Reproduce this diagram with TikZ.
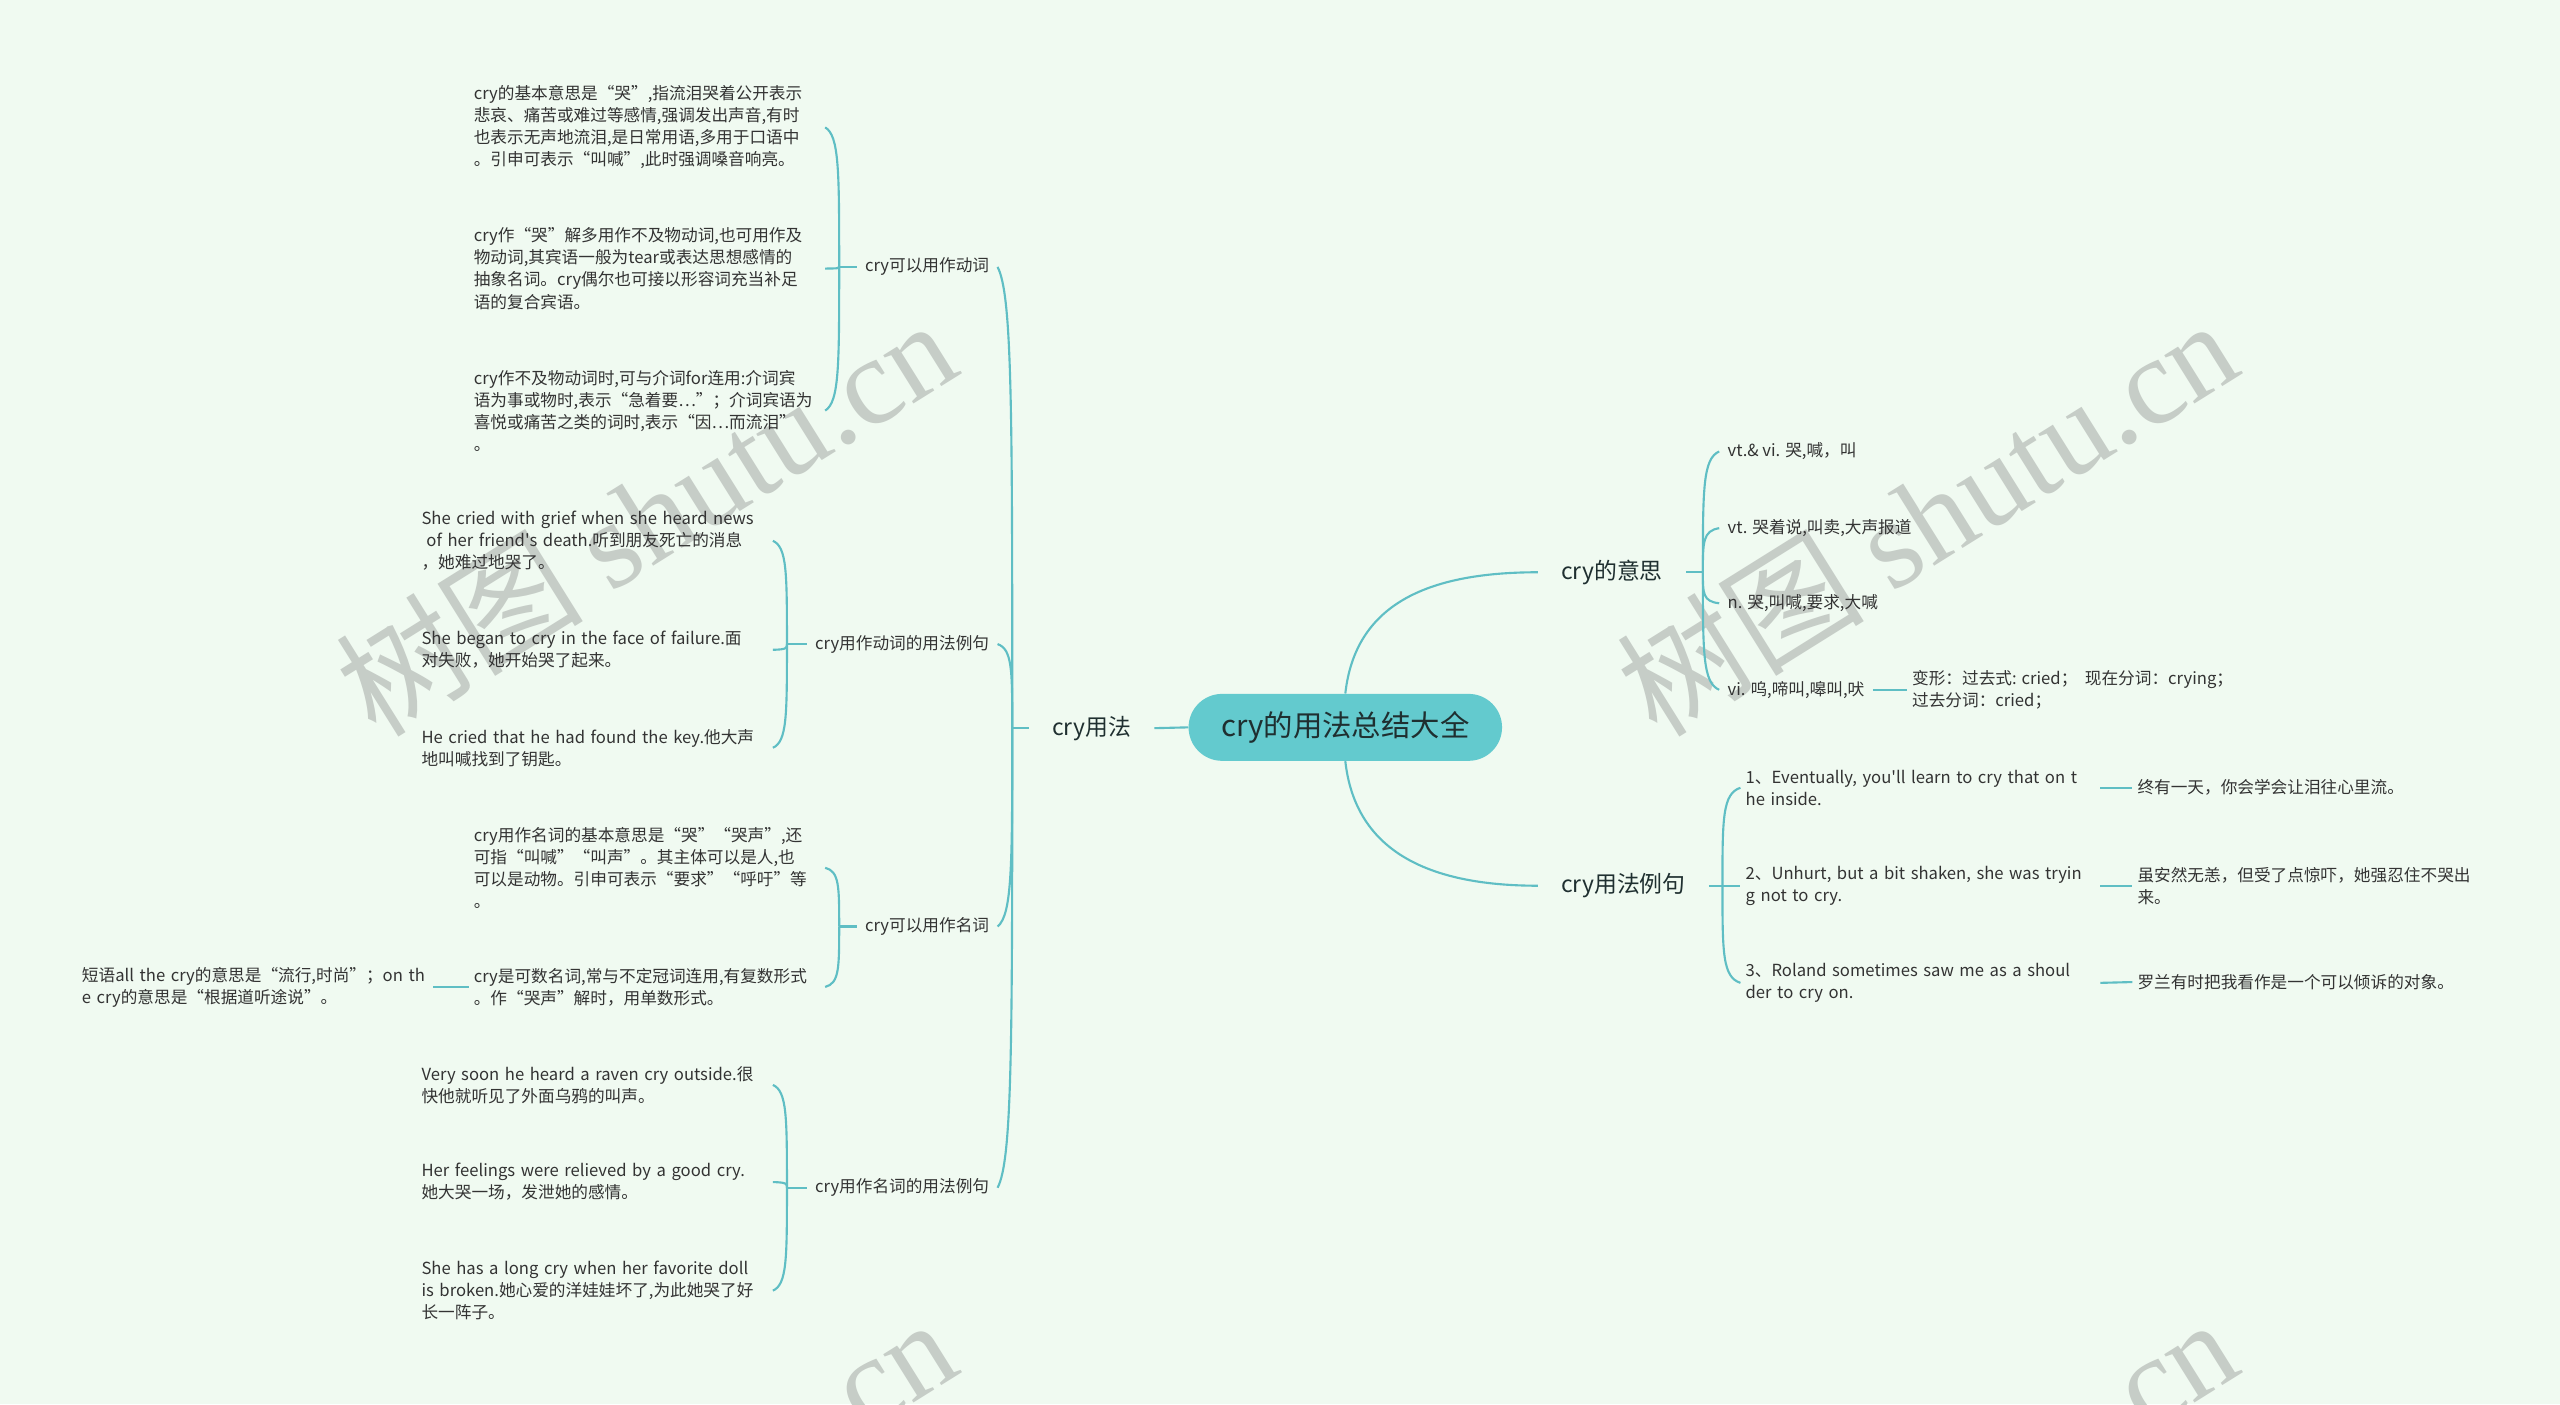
\documentclass[tikz,border=0pt]{standalone}
\usepackage{fontspec}
\setmainfont{Noto Sans CJK SC}
\newfontfamily\marcafont{Liberation Serif}
\usetikzlibrary{calc}

\definecolor{fondo}{HTML}{F0FAF1}
\definecolor{linea}{HTML}{5FBEC4}
\definecolor{relleno}{HTML}{63CACE}
\definecolor{texto}{HTML}{333333}
\definecolor{oscuro}{HTML}{1F2F30}
\definecolor{marca}{HTML}{C6CDC7}

\tikzset{
  raiz/.style={fill=relleno, rounded corners=20.5pt, minimum width=192pt, minimum height=41pt,
    text=oscuro, font=\fontsize{18}{20}\selectfont},
  tema/.style={inner xsep=14pt, inner ysep=3pt, text=oscuro, font=\fontsize{14}{16}\selectfont},
  rama/.style={inner xsep=5pt, inner ysep=2pt, text=texto, font=\fontsize{10.2}{13.5}\selectfont},
  hoja/.style={text width=212pt, align=left, inner xsep=3pt, inner ysep=2pt, text=texto,
    font=\fontsize{10.2}{13.5}\selectfont},
  marcatexto/.style={rotate=32, inner sep=0pt, text=marca, font=\fontsize{76}{76}\selectfont},
  conn/.style={draw=linea, line width=1.3pt},
  llave/.style={to path={.. controls ($(\tikztostart)!0.69!(\tikztostart |- \tikztotarget)$)
    and ($(\tikztostart)!0.94!(\tikztostart |- \tikztotarget)$) .. (\tikztotarget)}}
}

\begin{document}
\begin{tikzpicture}[x=1pt,y=-1pt]
  % fondo
  \fill[fondo] (0,0) rectangle (1568,860);
  \useasboundingbox (0,0) rectangle (1568,860);

  % marcas de agua
  \begin{scope}
    \clip (0,0) rectangle (1568,860);
    \foreach \x/\y in {395/316, 1180/316, 395/928, 1180/928}
      \node[marcatexto] at (\x,\y) {树图 {\marcafont shutu.cn}};
  \end{scope}

  % nodo central
  \node[raiz] (raiz) at (824,445.5) {cry的用法总结大全};

  % primer nivel
  \node[tema, anchor=east] (uso) at (707,446) {cry用法};
  \node[tema, anchor=west] (sig) at (942,350.5) {cry的意思};
  \node[tema, anchor=west] (ej) at (942,542.5) {cry用法例句};

  % segundo nivel (izquierda)
  \node[rama, anchor=east] (verbo) at (611,163.5) {cry可以用作动词};
  \node[rama, anchor=east] (ejverbo) at (611,394.5) {cry用作动词的用法例句};
  \node[rama, anchor=east] (nombre) at (611,567.5) {cry可以用作名词};
  \node[rama, anchor=east] (ejnombre) at (611,727.5) {cry用作名词的用法例句};

  % verbo
  \node[hoja, anchor=west] (v1) at (287,78) {cry的基本意思是“哭”,指流泪哭着公开表示\\悲哀、痛苦或难过等感情,强调发出声音,有时\\也表示无声地流泪,是日常用语,多用于口语中\\。引申可表示“叫喊”,此时强调嗓音响亮。};
  \node[hoja, anchor=west] (v2) at (287,164.5) {cry作“哭”解多用作不及物动词,也可用作及\\物动词,其宾语一般为tear或表达思想感情的\\抽象名词。cry偶尔也可接以形容词充当补足\\语的复合宾语。};
  \node[hoja, anchor=west] (v3) at (287,251.5) {cry作不及物动词时,可与介词for连用:介词宾\\语为事或物时,表示“急着要…”；介词宾语为\\喜悦或痛苦之类的词时,表示“因…而流泪”\\。};

  % ejemplos del verbo
  \node[hoja, anchor=west] (ev1) at (255,331.25) {She cried with grief when she heard news\\\hspace*{3pt}of her friend\textquotesingle s death.听到朋友死亡的消息\\，她难过地哭了。};
  \node[hoja, anchor=west] (ev2) at (255,398) {She began to cry in the face of failure.面\\对失败，她开始哭了起来。};
  \node[hoja, anchor=west] (ev3) at (255,458) {He cried that he had found the key.他大声\\地叫喊找到了钥匙。};

  % nombre
  \node[hoja, anchor=west] (n1) at (287,531.5) {cry用作名词的基本意思是“哭”“哭声”,还\\可指“叫喊”“叫声”。其主体可以是人,也\\可以是动物。引申可表示“要求”“呼吁”等\\。};
  \node[hoja, anchor=west] (n2) at (287,604.5) {cry是可数名词,常与不定冠词连用,有复数形式\\。作“哭声”解时，用单数形式。};
  \node[hoja, anchor=west] (frase) at (47,604.5) {短语all the cry的意思是“流行,时尚”；on th\\e cry的意思是“根据道听途说”。};

  % ejemplos del nombre
  \node[hoja, anchor=west] (en1) at (255,664.5) {Very soon he heard a raven cry outside.很\\快他就听见了外面乌鸦的叫声。};
  \node[hoja, anchor=west] (en2) at (255,724) {Her feelings were relieved by a good cry.\\她大哭一场，发泄她的感情。};
  \node[hoja, anchor=west] (en3) at (255,790.5) {She has a long cry when her favorite doll\\is broken.她心爱的洋娃娃坏了,为此她哭了好\\长一阵子。};

  % significados
  \node[rama, anchor=west] (s1) at (1053,276.5) {vt.\& vi. 哭,喊，叫};
  \node[rama, anchor=west] (s2) at (1053,323.5) {vt. 哭着说,叫卖,大声报道};
  \node[rama, anchor=west] (s3) at (1053,369.5) {n. 哭,叫喊,要求,大喊};
  \node[rama, anchor=west] (s4) at (1053,422.5) {vi. 呜,啼叫,嗥叫,吠};
  \node[rama, align=left, anchor=west, inner xsep=3pt] (formas) at (1168,422.5) {变形：过去式: cried；\ \ 现在分词：crying；\\过去分词：cried；};

  % ejemplos
  \node[hoja, text width=214pt, anchor=west] (e1) at (1066,482.5) {1、Eventually, you\textquotesingle ll learn to cry that on t\\he inside.};
  \node[hoja, text width=214pt, anchor=west] (e2) at (1066,542.5) {2、Unhurt, but a bit shaken, she was tryin\\g not to cry.};
  \node[hoja, text width=214pt, anchor=west] (e3) at (1066,602) {3、Roland sometimes saw me as a shoul\\der to cry on.};
  \node[rama, align=left, anchor=west, inner xsep=3pt] (t1) at (1306,482.5) {终有一天，你会学会让泪往心里流。};
  \node[rama, align=left, anchor=west, inner xsep=3pt] (t2) at (1306,542.5) {虽安然无恙，但受了点惊吓，她强忍住不哭出\\来。};
  \node[rama, align=left, anchor=west, inner xsep=3pt] (t3) at (1306,601.5) {罗兰有时把我看作是一个可以倾诉的对象。};

  % conectores del centro
  \draw[conn] (raiz.west) -- (uso.east);
  \draw[conn] (raiz.north) .. controls +(6,-54) and +(-69,0) .. (sig.west);
  \draw[conn] (raiz.south) .. controls +(6,54) and +(-69,0) .. (ej.west);

  % llaves izquierda
  \coordinate (juso) at (620,446);
  \draw[conn] (uso.west) -- (juso);
  \foreach \n in {verbo,ejverbo,nombre,ejnombre}
    \draw[conn] (juso) to[llave] (\n.east);

  \coordinate (jverbo) at (514,163.5);
  \draw[conn] (verbo.west) -- (jverbo);
  \foreach \n in {v1,v2,v3}
    \draw[conn] (jverbo) to[llave] (\n.east);

  \coordinate (jejverbo) at (482,394.5);
  \draw[conn] (ejverbo.west) -- (jejverbo);
  \foreach \n in {ev1,ev2,ev3}
    \draw[conn] (jejverbo) to[llave] (\n.east);

  \coordinate (jnombre) at (514,567.5);
  \draw[conn] (nombre.west) -- (jnombre);
  \foreach \n in {n1,n2}
    \draw[conn] (jnombre) to[llave] (\n.east);
  \draw[conn] (n2.west) -- (frase.east);

  \coordinate (jejnombre) at (482,727.5);
  \draw[conn] (ejnombre.west) -- (jejnombre);
  \foreach \n in {en1,en2,en3}
    \draw[conn] (jejnombre) to[llave] (\n.east);

  % llaves derecha
  \coordinate (jsig) at (1043,350.5);
  \draw[conn] (sig.east) -- (jsig);
  \foreach \n in {s1,s2,s3,s4}
    \draw[conn] (jsig) to[llave] (\n.west);
  \draw[conn] (s4.east) -- (formas.west);

  \coordinate (jej) at (1055,542.5);
  \draw[conn] (ej.east) -- (jej);
  \foreach \n in {e1,e2,e3}
    \draw[conn] (jej) to[llave] (\n.west);
  \draw[conn] (e1.east) -- (t1.west);
  \draw[conn] (e2.east) -- (t2.west);
  \draw[conn] (e3.east) -- (t3.west);
\end{tikzpicture}
\end{document}
